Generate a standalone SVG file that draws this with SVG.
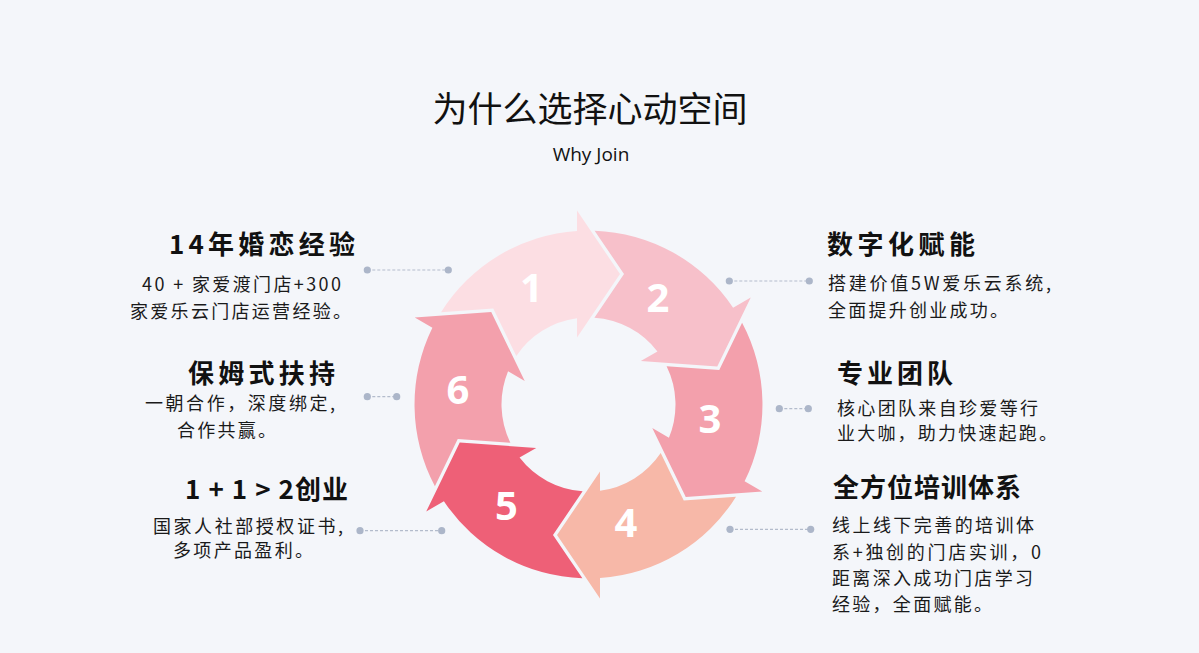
<svg xmlns="http://www.w3.org/2000/svg" xmlns:xlink="http://www.w3.org/1999/xlink" width="1199" height="653" viewBox="0 0 1199 653">
<defs>
<style>
.title{font-family:"Noto Sans CJK SC","Noto Sans",sans-serif;font-size:35px;fill:#111;}
.sub{font-family:"Open Sans","Noto Sans",sans-serif;font-size:19px;fill:#111;}
.h{font-family:"Noto Sans CJK SC","Noto Sans",sans-serif;font-size:26px;font-weight:bold;fill:#111;}
.b{font-family:"Noto Sans CJK SC","Noto Sans",sans-serif;font-size:18px;fill:#1a1a1a;}
.num{font-family:"Open Sans","Noto Sans",sans-serif;font-size:40px;font-weight:bold;fill:#fff;text-anchor:middle;}
.dash{stroke:#b3bccc;stroke-width:1.2;stroke-dasharray:3 2;fill:none;}
.dot{fill:#acb6c9;}
</style>
<path id="seg" d="M -147.5 -92.2 A 174 174 0 0 1 -11.5 -173.62 L -11.5 -194 L 31.5 -130.5 L -11.5 -67 L -11.5 -86.24 A 87 87 0 0 0 -72.2 -48.5 L -95.25 -96 Z"/>
</defs>
<rect width="1199" height="653" fill="#f4f6fa"/>
<g id="title">
<text class="title" x="590" y="122" text-anchor="middle">为什么选择心动空间</text>
<text class="sub" x="591" y="161" text-anchor="middle">Why Join</text>
</g>
<g id="cycle" transform="translate(588.5 404.5)">
<g id="seg1"><use xlink:href="#seg" fill="#fcdee3"/></g>
<g id="seg2"><use xlink:href="#seg" fill="#f7c0ca" transform="rotate(60)"/></g>
<g id="seg3"><use xlink:href="#seg" fill="#f3a0ac" transform="rotate(120)"/></g>
<g id="seg4"><use xlink:href="#seg" fill="#f7b8a8" transform="rotate(180)"/></g>
<g id="seg5"><use xlink:href="#seg" fill="#ee6077" transform="rotate(240)"/></g>
<g id="seg6"><use xlink:href="#seg" fill="#f3a0ac" transform="rotate(300)"/></g>
</g>
<g id="numbers">
<text class="num" x="531.5" y="302">1</text>
<text class="num" x="658" y="312">2</text>
<text class="num" x="710" y="433">3</text>
<text class="num" x="626" y="537">4</text>
<text class="num" x="506.5" y="520">5</text>
<text class="num" x="458" y="404">6</text>
</g>
<g id="connectors">
<line class="dash" x1="367.3" y1="270" x2="448.3" y2="270"/>
<circle class="dot" cx="367.3" cy="270" r="3.6"/><circle class="dot" cx="448.3" cy="270" r="3.6"/>
<line class="dash" x1="367.3" y1="396.7" x2="396.7" y2="396.7"/>
<circle class="dot" cx="367.3" cy="396.7" r="3.6"/><circle class="dot" cx="396.7" cy="396.7" r="3.6"/>
<line class="dash" x1="360" y1="530.7" x2="441.7" y2="530.7"/>
<circle class="dot" cx="360" cy="530.7" r="3.6"/><circle class="dot" cx="441.7" cy="530.7" r="3.6"/>
<line class="dash" x1="729.3" y1="281" x2="809.3" y2="281"/>
<circle class="dot" cx="729.3" cy="281" r="3.6"/><circle class="dot" cx="809.3" cy="281" r="3.6"/>
<line class="dash" x1="779.3" y1="408.7" x2="808.3" y2="408.7"/>
<circle class="dot" cx="779.3" cy="408.7" r="3.6"/><circle class="dot" cx="808.3" cy="408.7" r="3.6"/>
<line class="dash" x1="730" y1="529.3" x2="810.7" y2="529.3"/>
<circle class="dot" cx="730" cy="529.3" r="3.6"/><circle class="dot" cx="810.7" cy="529.3" r="3.6"/>
</g>
<g id="item1">
<text class="h" x="169" y="253.5" textLength="186" lengthAdjust="spacing">14年婚恋经验</text>
<text class="b" x="142" y="291" textLength="199" lengthAdjust="spacing">40 + 家爱渡门店+300</text>
<text class="b" x="130" y="318" textLength="221" lengthAdjust="spacing">家爱乐云门店运营经验。</text>
</g>
<g id="item2">
<text class="h" x="188" y="383" textLength="147" lengthAdjust="spacing">保姆式扶持</text>
<text class="b" x="145" y="410" textLength="190" lengthAdjust="spacing">一朝合作，深度绑定,</text>
<text class="b" x="177" y="437" textLength="99" lengthAdjust="spacing">合作共赢。</text>
</g>
<g id="item3">
<text class="h" x="185" y="499" textLength="163" lengthAdjust="spacing">1 + 1 &gt; 2创业</text>
<text class="b" x="153" y="533" textLength="190" lengthAdjust="spacing">国家人社部授权证书,</text>
<text class="b" x="173" y="556.5" textLength="140" lengthAdjust="spacing">多项产品盈利。</text>
</g>
<g id="item4">
<text class="h" x="827" y="254" textLength="148" lengthAdjust="spacing">数字化赋能</text>
<text class="b" x="828" y="290" textLength="223" lengthAdjust="spacing">搭建价值5W爱乐云系统,</text>
<text class="b" x="828" y="317" textLength="180" lengthAdjust="spacing">全面提升创业成功。</text>
</g>
<g id="item5">
<text class="h" x="837" y="383" textLength="116" lengthAdjust="spacing">专业团队</text>
<text class="b" x="837" y="415" textLength="201" lengthAdjust="spacing">核心团队来自珍爱等行</text>
<text class="b" x="837" y="440" textLength="220" lengthAdjust="spacing">业大咖，助力快速起跑。</text>
</g>
<g id="item6">
<text class="h" x="833" y="497" textLength="188" lengthAdjust="spacing">全方位培训体系</text>
<text class="b" x="832" y="532" textLength="202" lengthAdjust="spacing">线上线下完善的培训体</text>
<text class="b" x="832" y="558.5" textLength="209" lengthAdjust="spacing">系+独创的门店实训，0</text>
<text class="b" x="832" y="584.5" textLength="201" lengthAdjust="spacing">距离深入成功门店学习</text>
<text class="b" x="832" y="611" textLength="160" lengthAdjust="spacing">经验，全面赋能。</text>
</g>
</svg>
